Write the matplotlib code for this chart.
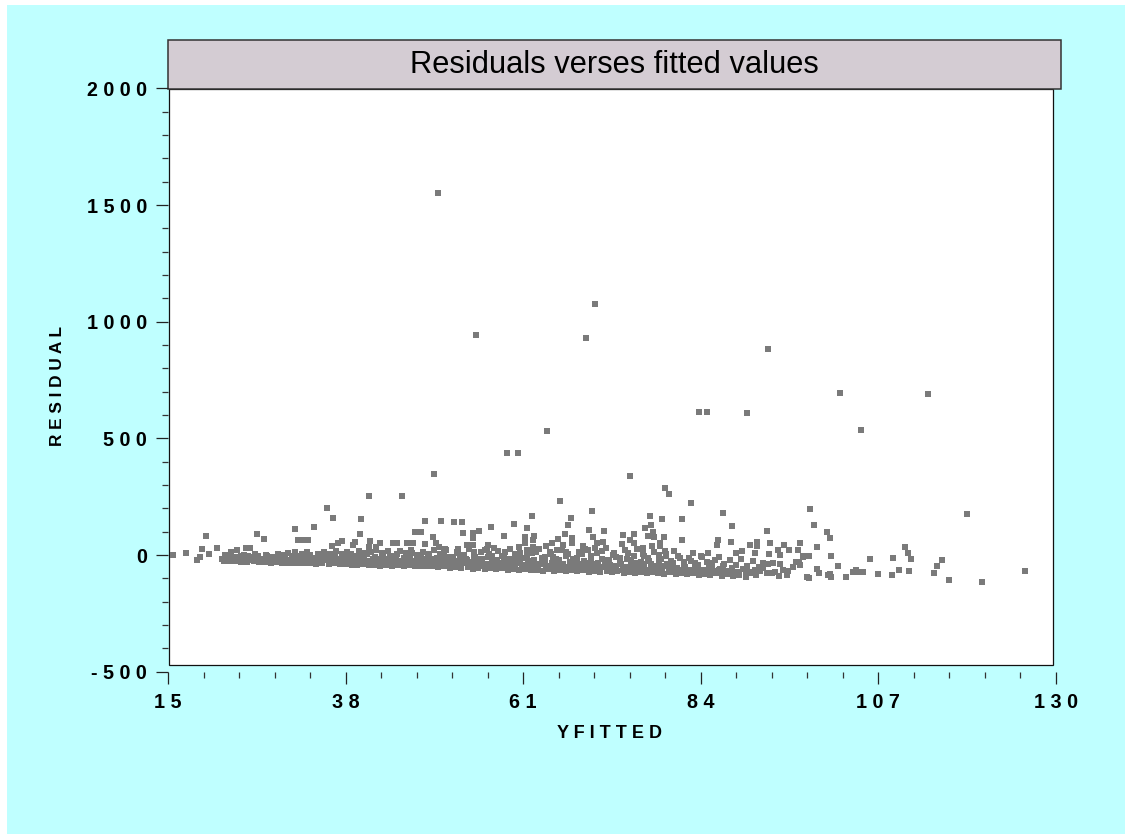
import matplotlib
matplotlib.use('Agg')
import matplotlib.pyplot as plt
from matplotlib.patches import Rectangle

W, H = 1125, 834

# points that stand clear of the band
fitted_high = [50.0, 54.9, 70.3, 69.1, 92.7, 102.0, 113.4, 83.8, 84.8, 90.0,
               104.7, 64.1, 58.9, 60.3, 49.4, 74.8, 79.4, 79.9, 41.0, 45.3,
               82.7, 65.8, 35.6, 36.4, 98.1, 118.5, 69.9, 86.9, 40.0, 62.1,
               67.2, 77.4, 79.0, 81.6]
resid_high = [1551, 943, 1076, 930, 883, 694, 690, 613, 613, 609,
              536, 531, 437, 437, 347, 339, 287, 261, 254, 254,
              223, 231, 203, 160, 197, 177, 189, 181, 156, 168,
              160, 168, 156, 156]

fitted_mid = [66.8, 59.8, 56.8, 61.5, 77.6, 76.8, 88.0, 69.5, 71.4, 77.8,
              53.1, 53.2, 55.3, 54.5, 58.5, 66.4, 70.0, 73.9, 75.3, 77.2,
              77.9, 79.2, 81.6, 86.2, 87.9, 61.2, 62.4, 62.3, 54.5, 67.3,
              65.5, 71.3, 70.6, 73.8, 75.3, 74.8, 78.7, 78.7, 77.7, 86.1,
              90.4, 91.3, 91.3, 61.2, 60.5, 64.0, 66.2, 67.3, 68.7, 62.3,
              64.7, 70.3, 71.7, 76.5, 80.5, 79.4, 83.0, 84.9, 88.6, 89.3,
              91.0, 56.1, 57.2, 56.5, 53.7, 54.5, 69.4, 65.4, 31.4, 33.9,
              31.9, 32.5, 33.1, 39.9, 36.3, 37.0, 37.5, 39.2, 38.9, 41.2,
              41.0, 42.5, 42.0, 44.2, 44.6, 45.9, 46.7, 48.3, 50.4, 52.0,
              47.0, 47.7, 49.3, 48.3, 49.7, 50.1, 50.9, 52.4, 52.6, 26.5,
              27.4, 25.1, 25.6, 23.9, 23.2, 21.3, 19.9, 19.4]
resid_mid = [130, 134, 121, 117, 130, 117, 126, 108, 104, 100,
             143, 96, 104, 94, 83, 91, 78, 87, 91, 83,
             78, 78, 66, 66, 57, 77, 83, 64, 73, 73,
             67, 57, 53, 48, 53, 64, 53, 40, 40, 44,
             44, 57, 40, 53, 36, 40, 44, 50, 40, 36,
             53, 29, 29, 29, 18, 18, 10, 10, 10, 18,
             7, 23, 29, 42, 42, 43, 23, 23, 113, 121,
             64, 64, 64, 91, 40, 50, 61, 57, 43, 61,
             36, 53, 36, 53, 53, 53, 50, 147, 147, 143,
             100, 100, 78, 48, 50, 36, 27, 14, 24, 91,
             70, 31, 31, 21, 14, 31, 81, 27]

# left tail and right tail, read one by one
fitted_tails = [15.6, 17.3, 18.8, 19.2, 20.3, 22.0, 22.4, 24.1,
                92.6, 100.3, 100.7, 93.0, 94.8, 96.8, 99.0, 94.0, 95.4, 96.6, 92.8, 94.3,
                97.2, 98.0, 100.9, 105.9, 108.9, 110.4, 110.8, 111.2, 115.2, 114.6,
                109.7, 111.0, 114.2, 116.1, 120.4, 126.0, 108.8, 107.0, 102.8, 105.0,
                104.5, 104.1, 103.7, 101.8, 100.7, 100.8, 100.5, 99.3, 99.0, 98.0,
                97.8, 96.8, 96.3, 95.9, 95.3, 95.2, 94.1, 93.2, 92.6, 94.3,
                93.3, 92.7, 92.0, 92.0, 93.6, 94.6, 96.7, 97.2, 98.7]
resid_tails = [0, 10, -21, -7, 6, -18, 0, -21,
               104, 100, 74, 53, 44, 53, 36, 23, 23, 23, 6, 1,
               -3, -3, -3, -16, -12, 36, 10, -16, -20, -46,
               -63, -67, -76, -106, -114, -67, -84, -80, -93, -72,
               -72, -63, -72, -46, -80, -94, -86, -76, -59, -97,
               -93, -42, -29, -50, -67, -86, -89, -78, -76, -37,
               -33, -37, -36, -57, -72, -64, -29, -10, 130]

# dense band, lower edge
fitted_low = [22.3, 23.0, 23.8, 24.5, 25.2, 26.1, 26.8, 27.5, 28.3, 29.0,
              29.8, 30.5, 31.3, 32.0, 32.8, 33.5, 34.2, 35.0, 35.8, 36.5,
              37.3, 38.0, 38.8, 39.5, 40.2, 41.0, 41.8, 42.5, 43.2, 44.0,
              44.8, 45.5, 46.2, 47.0, 47.8, 48.5, 49.2, 50.0, 50.8, 51.5,
              52.2, 53.0, 53.8, 54.5, 55.2, 56.0, 56.8, 57.5, 58.2, 59.0,
              59.8, 60.5, 61.2, 62.0, 62.8, 63.5, 64.2, 65.0, 65.8, 66.5,
              67.2, 68.0, 68.8, 69.5, 70.2, 71.0, 71.8, 72.5, 73.2, 74.0,
              74.8, 75.5, 76.2, 77.0, 77.8, 78.5, 79.2, 80.0, 80.8, 81.5,
              82.2, 83.0, 83.8, 84.5, 85.2, 86.0, 86.8, 87.5, 88.2, 89.0,
              89.8, 90.5, 91.2]
resid_low = [-24, -27, -25, -28, -30, -27, -31, -29, -33, -30,
             -34, -32, -35, -33, -36, -34, -37, -35, -38, -36,
             -40, -38, -41, -44, -40, -43, -41, -45, -42, -46,
             -44, -47, -43, -48, -45, -49, -46, -52, -48, -55,
             -50, -56, -52, -58, -54, -60, -55, -61, -57, -63,
             -58, -64, -60, -66, -62, -67, -61, -68, -63, -69,
             -65, -70, -66, -72, -68, -74, -67, -73, -69, -75,
             -71, -77, -72, -79, -74, -76, -80, -73, -82, -77,
             -83, -78, -85, -80, -86, -76, -88, -82, -90, -84,
             -92, -79, -87]

# dense band, middle
fitted_centre = [22.6, 23.4, 24.2, 25.0, 25.7, 26.5, 27.2, 28.0, 28.7, 29.5,
                 30.2, 31.0, 31.7, 32.5, 33.2, 34.0, 34.7, 35.5, 36.2, 37.0,
                 37.7, 38.5, 39.2, 40.0, 40.7, 41.5, 42.2, 43.0, 43.7, 44.5,
                 45.2, 46.0, 46.7, 47.5, 48.2, 49.0, 49.7, 50.5, 51.2, 52.0,
                 52.7, 53.5, 54.2, 55.0, 55.7, 56.5, 57.2, 58.0, 58.7, 59.5,
                 60.2, 61.0, 61.7, 62.5, 63.2, 64.0, 64.7, 65.5, 66.2, 67.0,
                 67.7, 68.5, 69.2, 70.0, 70.7, 71.5, 72.2, 73.0, 73.7, 74.5,
                 75.2, 76.0, 76.7, 77.5, 78.2, 79.0, 79.7, 80.5, 81.2, 82.0,
                 82.7, 83.5, 84.2, 85.0, 85.7, 86.5, 87.2, 88.0, 88.7, 89.5,
                 90.2, 91.0, 91.7]
resid_centre = [-5, -10, -8, -13, -9, -12, -15, -11, -14, -10,
                -15, -12, -16, -11, -17, -13, -18, -14, -19, -16,
                -20, -15, -22, -17, -24, -19, -25, -18, -26, -21,
                -24, -20, -27, -22, -25, -30, -21, -32, -26, -30,
                -24, -35, -29, -38, -27, -40, -31, -36, -28, -42,
                -34, -44, -30, -41, -37, -46, -33, -45, -38, -47,
                -35, -49, -40, -50, -36, -52, -42, -47, -38, -53,
                -44, -55, -40, -58, -46, -60, -48, -56, -62, -50,
                -63, -54, -66, -52, -68, -58, -70, -55, -72, -60,
                -74, -62, -70]

# dense band, upper edge
fitted_top = [23.1, 24.8, 26.3, 27.7, 29.2, 30.6, 31.5, 32.3, 33.0, 34.4,
              35.2, 36.0, 36.8, 37.5, 38.2, 39.0, 39.8, 40.5, 41.3, 42.0,
              42.8, 43.5, 44.3, 45.0, 45.8, 46.5, 47.3, 48.0, 48.8, 49.5,
              50.2, 51.0, 51.7, 52.5, 53.3, 54.0, 54.8, 55.5, 56.3, 57.0,
              57.8, 58.5, 59.3, 60.0, 60.8, 61.5, 62.2, 63.0, 63.8, 64.5,
              65.3, 66.0, 66.8, 67.5, 68.2, 69.0, 69.8, 70.5, 71.2, 72.0,
              72.8, 73.5, 74.2, 75.0, 75.8, 76.5, 77.3, 78.0, 78.8, 79.5,
              80.2, 81.0, 81.8, 82.5, 83.3, 84.0, 84.8, 85.5, 86.3, 87.0,
              87.8, 88.5, 89.2, 90.0, 90.8, 91.5]
resid_top = [5, 1, 6, 2, 3, 9, 14, 5, 12, 4,
             13, 6, 16, 3, 12, -2, 18, 8, 14, 20,
             5, 17, -4, 19, 8, 22, 2, 15, -6, 20,
             6, 22, -8, 18, 2, 25, -10, 12, 26, -6,
             18, -12, 24, 4, -14, 20, 8, 28, -10, 15,
             -16, 22, 6, -18, 14, 24, -12, 8, 18, -20,
             10, -14, 20, -22, 25, 4, -24, 14, -16, 6,
             -26, -6, -30, -12, -34, -4, -28, -36, -10, -40,
             -20, -44, -16, -48, -24, -52]

# more of the band, between the passes above
fitted_lower_fill = [23.5, 24.9, 26.0, 27.0, 27.9, 28.9, 29.9, 30.9, 31.9, 32.9,
                     33.9, 34.9, 35.9, 36.9, 37.9, 38.9, 39.9, 40.9, 41.9, 42.9,
                     43.9, 44.9, 45.9, 46.9, 47.9, 48.9, 49.9, 50.9, 51.9, 52.9,
                     53.9, 54.9, 55.9, 56.9, 57.9, 58.9, 59.9, 60.9, 61.9, 62.9,
                     63.9, 64.9, 65.9, 66.9, 67.9, 68.9, 69.9, 70.9, 71.9, 72.9,
                     73.9, 74.9, 75.9, 76.9, 77.9, 78.9, 79.9, 80.9, 81.9, 82.9,
                     83.9, 84.9, 85.9, 86.9, 87.9, 88.9, 89.9, 90.9]
resid_lower_fill = [-18, -20, -22, -20, -24, -21, -26, -23, -27, -24,
                    -28, -25, -29, -27, -31, -28, -33, -29, -34, -31,
                    -35, -32, -36, -34, -38, -35, -40, -37, -43, -39,
                    -45, -42, -48, -44, -50, -46, -52, -48, -54, -50,
                    -56, -51, -57, -53, -59, -55, -61, -56, -63, -58,
                    -64, -60, -66, -62, -68, -65, -69, -66, -72, -68,
                    -74, -70, -76, -72, -78, -74, -81, -76]

fitted_upper_fill = [30.0, 31.2, 32.2, 33.4, 34.6, 35.6, 36.6, 37.8, 38.7, 39.7,
                     40.8, 41.8, 42.7, 43.8, 44.7, 45.6, 46.6, 47.7, 48.7, 49.8,
                     50.7, 51.6, 52.4, 53.6, 54.6, 55.6, 56.6, 57.6, 58.6, 59.6,
                     60.6, 61.6, 62.6, 63.6, 64.6, 65.6, 66.6, 67.6, 68.6, 69.6,
                     70.6, 71.6, 72.6, 73.6, 74.6, 75.6, 76.6, 77.6, 78.6, 79.6]
resid_upper_fill = [2, -3, -5, 1, -6, 3, -7, 4, 5, -8,
                    3, -9, 8, -10, 6, -11, 9, -12, 4, -13,
                    10, -14, 7, -16, 13, -18, 6, -20, 11, -22,
                    9, -24, 14, -26, 5, -28, 12, -30, 3, -32,
                    10, -33, 0, -35, 7, -36, -4, -38, 2, -40]

fitted_inner = [50.4, 50.9, 51.4, 51.9, 52.3, 52.8, 53.2, 53.7, 54.1, 54.6,
                55.1, 55.5, 56.0, 56.4, 56.9, 57.4, 57.8, 58.3, 58.8, 59.2,
                59.7, 60.1, 60.6, 61.1, 61.5, 62.0, 62.4, 62.9, 63.4, 63.8,
                64.3, 64.8, 65.2, 65.7, 66.1, 66.6, 67.1, 67.5, 68.0, 68.4,
                68.9, 69.4, 69.8, 70.3, 70.7, 71.2, 71.7, 72.1, 72.6, 73.0,
                73.5, 74.0, 74.4, 74.9, 75.3, 75.8, 76.3, 76.7, 77.2, 77.6,
                78.1, 78.6, 79.0, 79.5, 79.9, 80.4, 80.9, 81.3, 81.8, 82.2,
                82.7, 83.2, 83.6, 84.1, 84.6, 85.0, 85.5, 85.9, 86.4, 86.9,
                24.4, 25.4, 26.7, 27.8, 28.5, 29.6, 30.4, 31.5, 32.7, 33.7,
                34.8, 35.4, 36.4, 37.2, 38.3, 39.4, 40.4, 41.1, 42.3, 43.3,
                44.1, 45.4, 46.3, 47.2, 48.4, 49.3, 50.1]
resid_inner = [-22, -8, -28, -15, -35, -5, -30, -20, -38, -12,
               -32, -16, -42, -8, -34, -24, -46, -2, -36, -18,
               -44, -10, -28, -50, -4, -38, -22, -46, -14, -32,
               -52, -8, -36, -20, -48, -2, -30, -54, -12, -40,
               -24, -50, -6, -38, -56, -16, -44, -26, -58, -8,
               -34, -54, -18, -46, -2, -60, -28, -50, -12, -42,
               -58, -24, -48, -4, -62, -32, -54, -14, -44, -66,
               -26, -58, -42, -8, -64, -34, -52, -20, -62, -46,
               -2, -4, -6, -6, -8, -6, -20, -8, -10, -18,
               -10, -22, -12, -24, -8, -24, -14, -26, -16, -28,
               -14, -26, -12, -30, -18, -16, -34]

x_ticks = [15, 38, 61, 84, 107, 130]
x_minor_ticks = [19.6, 24.2, 28.8, 33.4, 42.6, 47.2, 51.8, 56.4, 65.6, 70.2, 74.8, 79.4,
                 88.6, 93.2, 97.8, 102.4, 111.6, 116.2, 120.8, 125.4]
x_tick_labels = ['1 5', '3 8', '6 1', '8 4', '1 0 7', '1 3 0']
y_ticks = [-500, 0, 500, 1000, 1500, 2000]
y_minor_ticks = [-400, -300, -200, -100, 100, 200, 300, 400, 600, 700, 800, 900,
                 1100, 1200, 1300, 1400, 1600, 1700, 1800, 1900]
y_tick_labels = ['- 5 0 0', '0', '5 0 0', '1 0 0 0', '1 5 0 0', '2 0 0 0']


def caixa(fig, x0, y0, x1, y1, **kw):
    """Rectangle given in image pixels, y counted from the top."""
    r = Rectangle((x0 / W, 1 - y1 / H), (x1 - x0) / W, (y1 - y0) / H,
                  transform=fig.transFigure, **kw)
    fig.add_artist(r)


def main():
    plt.rcParams['font.family'] = ['Liberation Sans', 'DejaVu Sans']
    fig = plt.figure(figsize=(W / 100, H / 100), dpi=100, facecolor='white')

    caixa(fig, 7, 5, W + 2, H + 2, facecolor='#bfffff', edgecolor='none', zorder=-5)
    caixa(fig, 168.5, 88.5, 1052.5, 665, facecolor='white', edgecolor='#111111',
          linewidth=0.9, zorder=-4)
    caixa(fig, 168, 40, 1060.5, 88.5, facecolor='#d4ccd3', edgecolor='#333333',
          linewidth=1.1, zorder=-3)

    ax = fig.add_axes([168 / W, 1 - 671.7 / H, (1056 - 168) / W, (671.7 - 88.5) / H])
    ax.patch.set_visible(False)
    for s in ax.spines.values():
        s.set_visible(False)
    ax.set_xlim(15, 130)
    ax.set_ylim(-500, 2000)

    for xs, ys in [(fitted_high, resid_high), (fitted_mid, resid_mid),
                   (fitted_tails, resid_tails), (fitted_low, resid_low),
                   (fitted_centre, resid_centre), (fitted_top, resid_top),
                   (fitted_lower_fill, resid_lower_fill),
                   (fitted_upper_fill, resid_upper_fill),
                   (fitted_inner, resid_inner)]:
        ax.scatter(xs, ys, s=24, marker='s', color='#7a7a7a', linewidths=0)

    ax.set_xticks(x_ticks)
    ax.set_xticklabels(x_tick_labels, fontsize=14.2, fontweight='bold')
    ax.set_xticks(x_minor_ticks, minor=True)
    ax.set_yticks(y_ticks)
    ax.set_yticklabels(y_tick_labels, fontsize=14.2, fontweight='bold')
    ax.set_yticks(y_minor_ticks, minor=True)
    ax.tick_params(axis='both', which='major', length=8.6, width=0.9, color='#222222')
    ax.tick_params(axis='x', which='major', pad=7)
    ax.tick_params(axis='y', which='major', pad=6.5)
    ax.tick_params(axis='both', which='minor', length=4.6, width=0.9, color='#333333')

    fig.text(614 / W, 1 - 65 / H, 'Residuals verses fitted values', fontsize=22.2,
             ha='center', va='center', color='black')
    fig.text(609.5 / W, 1 - 733.5 / H, 'Y F I T T E D', fontsize=13, fontweight='bold',
             ha='center', va='center')
    fig.text(57 / W, 1 - 386 / H, 'R E S I D U A L', fontsize=12.4, fontweight='bold',
             rotation=90, ha='center', va='center')

    fig.savefig('out.png', dpi=100, facecolor='white')


if __name__ == '__main__':
    main()
